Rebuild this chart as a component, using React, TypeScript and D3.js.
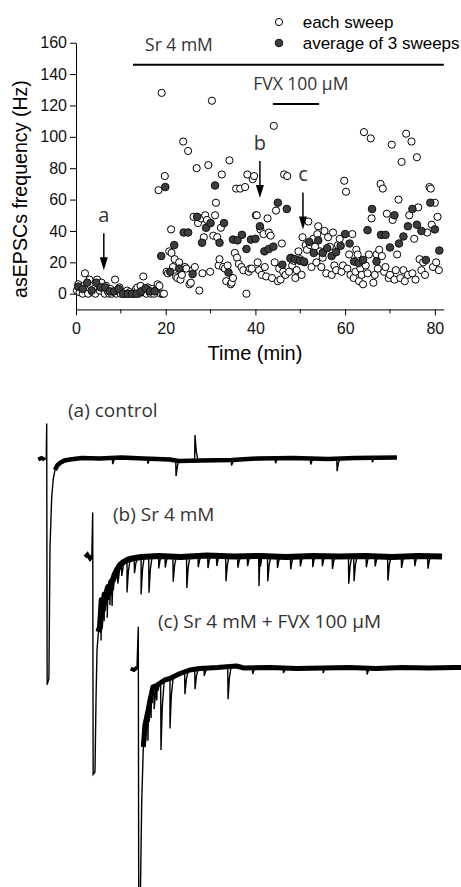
import React, { useRef, useEffect } from 'react';
import * as d3 from 'd3';

// time course (min) vs asEPSC frequency (Hz)
const xTicks = [0, 20, 40, 60, 80];
const xMinorTicks = [10, 30, 50, 70];
const yTicks = [0, 20, 40, 60, 80, 100, 120, 140, 160];

const eachSweep: [number, number][] = [
  [0.2, 2], [0.5, 6], [0.8, 1], [1.2, 4], [1.5, 0], [1.8, 5], [2.0, 13], [2.3, 3], [2.7, 0], [3.0, 9],
  [3.3, 5], [3.7, 1], [4.0, 3], [4.3, 0], [4.7, 9], [5.0, 6], [5.3, 2], [5.7, 7], [6.0, 4], [6.4, 0],
  [6.7, 5], [7.0, 2], [7.4, 0], [7.7, 3], [8.0, 0], [8.4, 1], [8.7, 9], [9.0, 0], [9.4, 2], [9.7, 4],
  [10.0, 0], [10.4, 1], [10.7, 0], [11.0, 0], [11.4, 2], [11.7, 0], [12.0, 1], [12.4, 0], [12.7, 0], [13.0, 0],
  [13.4, 3], [13.7, 4], [14.0, 0], [14.4, 5], [14.7, 1], [15.0, 11], [15.3, 2], [15.7, 0], [16.0, 4], [16.4, 1],
  [16.7, 0], [17.0, 3], [17.4, 0], [17.8, 2], [18.2, 6], [18.6, 5], [18.9, 0], [19.3, 0],
  [18.4, 66], [19.1, 128], [19.8, 75], [19.6, 0], [20.2, 14], [20.5, 13], [20.8, 27], [21.2, 41], [21.3, 26], [21.6, 17],
  [22.0, 22], [22.3, 11], [22.6, 10], [23.0, 20], [23.3, 9], [23.6, 12], [23.9, 97], [24.3, 17], [24.6, 16], [25.0, 91],
  [25.3, 6], [25.6, 7], [26.0, 15], [26.2, 49], [26.5, 17], [26.9, 80], [27.2, 45], [27.5, 2], [27.9, 48], [28.2, 13],
  [28.5, 36], [28.8, 50], [29.2, 47], [29.5, 82], [29.9, 14], [30.3, 123], [30.6, 37], [31.0, 50], [31.2, 58], [31.5, 36],
  [31.8, 18], [32.0, 22], [32.3, 42], [32.5, 76], [32.8, 17], [33.2, 16], [33.5, 8], [33.8, 18], [34.2, 85], [34.5, 6],
  [34.7, 7], [35.0, 10], [35.4, 26], [35.7, 67], [35.9, 23], [36.3, 19], [36.6, 67], [36.9, 17], [37.3, 15], [37.7, 68],
  [38.0, 0], [38.2, 76], [38.5, 14], [38.8, 16], [39.2, 16], [39.4, 73], [39.7, 75], [40.1, 50], [40.3, 50], [40.5, 20],
  [40.8, 15], [41.1, 41], [41.4, 12], [41.8, 38], [42.1, 17], [42.4, 11], [42.7, 48], [43.0, 39], [43.4, 37], [43.7, 10],
  [44.1, 107], [44.3, 20], [44.6, 53], [45.0, 8], [45.3, 16], [45.6, 9], [45.9, 32], [46.2, 14], [46.4, 76], [46.7, 12],
  [47.1, 75], [47.5, 14], [47.9, 23], [48.2, 18], [48.5, 21], [48.9, 10], [49.2, 15], [49.6, 27], [50.0, 22], [50.3, 12],
  [50.5, 36], [50.9, 20], [51.2, 31], [51.5, 28], [51.8, 46], [52.2, 31], [52.5, 17], [52.9, 35], [53.3, 30], [53.6, 20],
  [53.8, 38], [54.0, 43], [54.4, 27], [54.7, 17], [55.0, 23], [55.4, 40], [55.8, 13], [56.2, 36], [56.6, 30], [57.0, 12],
  [57.3, 39], [57.6, 18], [58.0, 15], [58.4, 31], [58.8, 35], [59.2, 14], [59.5, 18], [59.8, 72], [60.2, 65], [60.5, 16],
  [60.9, 25], [61.2, 12], [61.6, 38], [61.9, 10], [62.3, 14], [62.5, 28], [62.8, 25], [63.1, 8], [63.4, 16], [63.7, 12],
  [64.0, 6], [64.2, 103], [64.6, 18], [65.0, 13], [65.3, 25], [65.7, 99], [65.9, 48], [66.3, 7], [66.6, 12], [67.0, 25],
  [67.3, 16], [67.6, 28], [67.9, 70], [68.2, 24], [68.4, 67], [68.7, 14], [69.0, 17], [69.3, 51], [69.7, 10], [70.0, 12],
  [70.4, 95], [70.6, 47], [71.0, 9], [71.3, 15], [71.6, 25], [71.9, 60], [72.3, 10], [72.6, 84], [73.0, 15], [73.3, 8],
  [73.6, 102], [74.0, 12], [74.3, 50], [74.8, 97], [75.0, 13], [75.4, 35], [75.7, 9], [76.0, 87], [76.3, 55], [76.6, 22],
  [77.0, 15], [77.4, 20], [77.8, 12], [78.3, 39], [78.8, 68], [79.1, 67], [79.3, 44], [79.6, 17], [80.0, 58], [80.3, 20],
  [80.6, 49], [80.9, 15],
];

const averageOf3: [number, number][] = [
  [0.5, 4.5], [1.5, 3], [2.5, 7], [3.5, 2], [4.5, 7], [5.5, 4], [6.5, 4], [7.5, 1.5], [8.5, 1.5], [9.5, 3],
  [10.5, 0], [11.5, 0], [12.5, 0], [13.5, 0], [14.5, 1.5], [15.5, 3.5], [16.5, 1.5], [17.5, 1.5],
  [19, 24], [19.9, 68], [21, 14], [21.9, 31], [23, 16], [24, 39], [25, 39], [26, 12.5], [27, 49], [28.1, 32.5],
  [29, 42], [30, 45], [31, 69], [32, 32.5], [33, 45], [34, 13.5], [35, 34.5], [36, 34], [37, 37.5], [38, 28.5],
  [39, 34.5], [40, 35], [41, 43], [42, 27], [43, 28.5], [44, 30], [45, 58], [46, 18.5], [47, 54], [47.8, 22.5],
  [48.8, 22], [49.9, 21], [50.8, 20.5], [52, 33], [53, 26], [54, 34], [55, 26], [56, 29], [57, 24], [58, 26.5],
  [59, 30.5], [60, 38], [61, 32], [62, 20.5], [63, 19.5], [64, 21.5], [65, 40.5], [66, 54], [67, 20.5], [68, 37.5],
  [69, 37.5], [70, 29.5], [71, 50], [72, 32], [73, 36.5], [74, 43], [75, 54], [76, 44], [77, 40], [78, 21.5],
  [79, 58], [80, 41], [81, 27.5],
];

const treatments = [
  { label: 'Sr 4 mM', start: 12.7, end: 82, level: 146, labelAt: 15.4 },
  { label: 'FVX 100 μM', start: 43.9, end: 54.2, level: 121, labelAt: 39.5 },
];

const sampleMarks = [
  { label: 'a', time: 6.2, value: 15 },
  { label: 'b', time: 41, value: 61 },
  { label: 'c', time: 50.6, value: 41 },
];

// example traces: time (ms) from stimulus, current (pA)
const traceABase: [number, number][] = [
  [-19, -4], [-12, 2], [-5, -4], [-1, 0], [0, 140], [1, -905], [5, -880], [7.5, -354], [11.4, -154], [15, -80],
  [18.9, -46], [24, -28], [30, -18], [40, -8], [53, -4], [80, 2], [120, 0], [170, 4], [220, 0], [280, -4],
  [300, -10], [350, -8], [420, -6], [480, 0], [560, 2], [640, -2], [700, 2], [796, 4],
];
const traceAEvents: [number, number][] = [
  [150, -25], [230, -20], [294, -62], [337, 102], [420, -22], [520, -20], [600, -24], [660, -50], [740, -18],
];

const traceBBase: [number, number][] = [
  [-17, 0], [-12, 10], [-6, -6], [-2, 4], [0, 178], [1, -870], [5.2, -860], [7.5, -572], [9.8, -372], [13, -300],
  [16.6, -280], [20.5, -172], [23.4, -212], [27, -150], [30, -152], [35, -120], [39, -132], [42, -100], [46, -92], [50, -70],
  [55, -52], [62, -32], [70, -20], [78, -12], [90, -6], [110, 0], [150, 4], [200, 0], [260, 6], [320, 2],
  [380, 4], [440, 0], [500, 4], [560, 2], [620, 4], [680, 0], [740, 4], [794, 2],
];
const traceBEvents: [number, number][] = [
  [19, -120], [26, -90], [33, -110], [39, -60], [44, -100], [57, -60], [66, -50], [78, -130], [95, -60], [110, -150],
  [128, -145], [150, -50], [165, -45], [183, -100], [214, -125], [240, -45], [262, -50], [282, -40], [303, -100], [330, -45],
  [352, -40], [378, -120], [398, -100], [420, -45], [450, -50], [472, -40], [500, -45], [522, -40], [545, -50], [582, -110],
  [594, -100], [622, -45], [642, -40], [671, -95], [702, -45], [732, -40], [762, -50],
];

const traceCBase: [number, number][] = [
  [-17, 0], [-10, -6], [-3, 4], [0, 167], [1, -1000], [4, -1000], [7.7, -538], [11.4, -314], [15, -226], [19, -194],
  [23, -160], [26.6, -126], [30, -100], [33, -74], [40, -70], [48, -60], [60, -46], [72, -40], [83, -30], [95, -20],
  [117, -6], [140, 0], [180, 4], [223, 10], [240, 2], [300, 4], [360, 0], [420, 2], [480, 4], [540, 0],
  [600, 4], [660, 2], [720, 4], [800, 2],
];
const traceCEvents: [number, number][] = [
  [17, -80], [22, -120], [29, -90], [36, -90], [42, -60], [51.6, -270], [72, -200], [106, -90], [129, -80], [150, -30],
  [204, -130], [260, -25], [330, -20], [420, -20], [520, -25],
];

const traces = [
  { label: '(a) control', base: traceABase, events: traceAEvents, x0: 46.7, y0: 458.5, band: 4.5, settle: 18, lx: 68, ly: 417 },
  { label: '(b) Sr 4 mM', base: traceBBase, events: traceBEvents, x0: 92.7, y0: 557, band: 6, settle: 12, lx: 113, ly: 521 },
  { label: '(c) Sr 4 mM + FVX 100 μM', base: traceCBase, events: traceCEvents, x0: 138.3, y0: 668.5, band: 5, settle: 10, lx: 158, ly: 628 },
];

const W = 461;
const H = 887;
const axisFont = '"Liberation Sans", Arial, sans-serif';
const noteFont = '"Open Sans", "DejaVu Sans", sans-serif';

const App = () => {
  const svgRef = useRef<SVGSVGElement>(null);

  useEffect(() => {
    const svg = d3.select(svgRef.current);
    svg.selectAll('*').remove();

    const x = d3.scaleLinear().domain([0, 82]).range([76, 443.8]);
    const y = d3.scaleLinear().domain([-10, 160]).range([309.4, 42.7]);

    const g = svg.append('g');

    // axes
    const yAxis = g.append('g')
      .attr('transform', `translate(${x(0)},0)`)
      .call(d3.axisLeft(y).tickValues(yTicks).tickSize(6).tickSizeOuter(0).tickPadding(3));
    const xAxis = g.append('g')
      .attr('transform', `translate(0,${y(-10)})`)
      .call(d3.axisBottom(x).tickValues(xTicks).tickSize(6).tickSizeOuter(0).tickPadding(7));
    xAxis.selectAll('.minor')
      .data(xMinorTicks)
      .enter()
      .append('line')
      .attr('x1', d => x(d))
      .attr('x2', d => x(d))
      .attr('y1', 0)
      .attr('y2', 4)
      .attr('stroke', '#000');
    [xAxis, yAxis].forEach(ax => {
      ax.selectAll('text').style('font-family', axisFont).style('font-size', '16px').attr('fill', '#111');
      ax.selectAll('line, path').attr('stroke', '#000').attr('stroke-width', 1);
    });

    g.append('text')
      .attr('transform', `translate(27,189) rotate(-90)`)
      .attr('text-anchor', 'middle')
      .style('font-family', axisFont)
      .style('font-size', '19.6px')
      .text('asEPSCs frequency (Hz)');

    g.append('text')
      .attr('x', 255)
      .attr('y', 360)
      .attr('text-anchor', 'middle')
      .style('font-family', axisFont)
      .style('font-size', '20px')
      .text('Time (min)');

    // treatment bars
    treatments.forEach(tr => {
      g.append('line')
        .attr('x1', x(tr.start))
        .attr('x2', x(tr.end))
        .attr('y1', y(tr.level))
        .attr('y2', y(tr.level))
        .attr('stroke', '#000')
        .attr('stroke-width', 2);
      g.append('text')
        .attr('x', x(tr.labelAt))
        .attr('y', y(tr.level) - 14)
        .style('font-family', noteFont)
        .style('font-size', '17.5px')
        .attr('fill', '#333')
        .text(tr.label);
    });

    // points
    g.selectAll('.sweep')
      .data(eachSweep)
      .enter()
      .append('circle')
      .attr('cx', d => x(d[0]))
      .attr('cy', d => y(d[1]))
      .attr('r', 3.6)
      .attr('fill', '#fff')
      .attr('stroke', '#000')
      .attr('stroke-width', 1);

    g.selectAll('.avg')
      .data(averageOf3)
      .enter()
      .append('circle')
      .attr('cx', d => x(d[0]))
      .attr('cy', d => y(d[1]))
      .attr('r', 3.8)
      .attr('fill', '#3d3d3d')
      .attr('stroke', '#111')
      .attr('stroke-width', 1);

    // sample arrows
    sampleMarks.forEach(m => {
      const tipX = x(m.time);
      const tipY = y(m.value);
      g.append('line')
        .attr('x1', tipX).attr('x2', tipX)
        .attr('y1', tipY - 37).attr('y2', tipY - 10)
        .attr('stroke', '#000').attr('stroke-width', 1.5);
      g.append('path')
        .attr('d', `M${tipX - 4},${tipY - 13} L${tipX + 4},${tipY - 13} L${tipX},${tipY} Z`)
        .attr('fill', '#000');
      g.append('text')
        .attr('x', tipX)
        .attr('y', tipY - 48)
        .attr('text-anchor', 'middle')
        .style('font-family', noteFont)
        .style('font-size', '20px')
        .attr('fill', '#333')
        .text(m.label);
    });

    // legend
    const legend = g.append('g');
    legend.append('circle').attr('cx', 279).attr('cy', 22).attr('r', 3.6)
      .attr('fill', '#fff').attr('stroke', '#000');
    legend.append('circle').attr('cx', 279).attr('cy', 43).attr('r', 3.8)
      .attr('fill', '#3d3d3d').attr('stroke', '#111');
    legend.append('text').attr('x', 302.7).attr('y', 28)
      .style('font-family', axisFont).style('font-size', '17px').text('each sweep');
    legend.append('text').attr('x', 302.7).attr('y', 49)
      .style('font-family', axisFont).style('font-size', '17px').text('average of 3 sweeps');

    // example traces
    const tx = d3.scaleLinear().domain([0, 800]).range([0, 352]);
    const ty = d3.scaleLinear().domain([0, -1000]).range([0, 250]);

    traces.forEach(tr => {
      const baseAt = d3.scaleLinear()
        .domain(tr.base.map(d => d[0]))
        .range(tr.base.map(d => d[1]));
      const pts: [number, number][] = [...tr.base];
      tr.events.forEach(([t, amp]) => {
        const b = baseAt(t);
        pts.push([t - 0.8, b], [t, b + amp], [t + 3, b + amp * 0.35], [t + 7, b]);
      });
      pts.sort((p, q) => p[0] - q[0]);

      const line = d3.line<[number, number]>()
        .x(d => tr.x0 + tx(d[0]))
        .y(d => tr.y0 + ty(d[1]));

      const tg = g.append('g');
      tg.append('path')
        .attr('d', line(tr.base.filter(d => d[0] >= tr.settle)))
        .attr('fill', 'none')
        .attr('stroke', '#000')
        .attr('stroke-width', tr.band)
        .attr('stroke-linejoin', 'round');
      tg.append('path')
        .attr('d', line(tr.base.filter(d => d[0] < -1)))
        .attr('fill', 'none')
        .attr('stroke', '#000')
        .attr('stroke-width', 4);
      tg.append('path')
        .attr('d', line(pts))
        .attr('fill', 'none')
        .attr('stroke', '#000')
        .attr('stroke-width', 1.4);

      g.append('text')
        .attr('x', tr.lx)
        .attr('y', tr.ly)
        .style('font-family', noteFont)
        .style('font-size', '19px')
        .attr('fill', '#333')
        .text(tr.label);
    });
  }, []);

  return (
    <svg
      ref={svgRef}
      width={W}
      height={H}
      style={{ position: 'absolute', left: 0, top: 0, background: '#fff' }}
    />
  );
};

export default App;
